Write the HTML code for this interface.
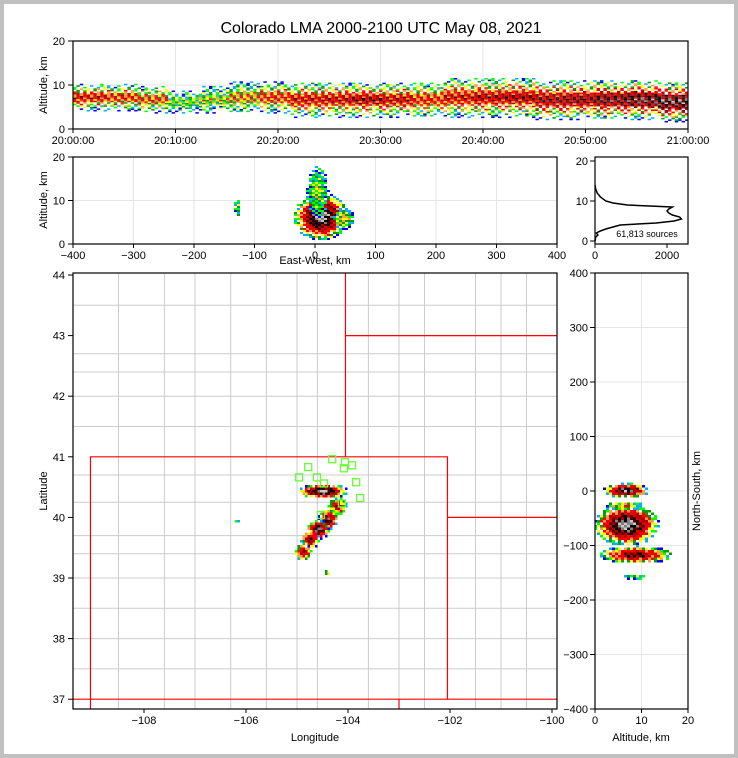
<!DOCTYPE html>
<html><head><meta charset="utf-8">
<style>
html,body{margin:0;padding:0;background:#fff}
svg{display:block;font-family:"Liberation Sans",sans-serif}
</style></head>
<body>
<svg id="c" width="738" height="758" viewBox="0 0 738 758">
<rect x="0" y="0" width="738" height="758" fill="#c0c0c0"/>
<rect x="4" y="4" width="730" height="750" fill="#fff"/>
<text x="381" y="33" font-size="16" text-anchor="middle">Colorado LMA 2000-2100 UTC May 08, 2021</text>
<g id="layer"></g>
</svg>
<script>
// ---- data ----
const timeBins = [0,3,6,9,12,15,18,21,24,27,30,33,36,39,42,45,48,51,54,57];
const thCenter = [7,7,6.5,6,6.5,7,7,6.5,6.5,6.5,6.5,6.5,7,7,7,6.5,6.5,6.5,6.5,6];
const thHalf   = [3,3,3,2.5,3,3.5,3.5,4,4,4,4,4,4.5,4.5,4.5,4.5,4.5,4.5,4.5,4.5];
const thPeak   = [0.6,0.55,0.5,0.3,0.35,0.45,0.55,0.6,0.62,0.66,0.62,0.55,0.6,0.64,0.66,0.68,0.7,0.75,0.8,0.85];
const ewX  = [8,  -130, 2, 45];
const ewZ  = [6.5, 8.5, 12, 6];
const ewRX = [45,  5,   18, 18];
const ewRZ = [5.5, 2.5, 6,  2.5];
const ewI  = [1.0, 0.3, 0.35, 0.45];
const histAlt = [0,1,1.5,2,2.5,3,3.5,4,4.5,5,5.5,6,6.5,7,7.5,8,8.5,9,9.5,10,11,12,13,14];
const histCnt = [0,20,80,40,150,300,500,700,1700,2200,2400,2350,2150,2050,2000,2050,2150,900,500,300,150,60,20,0];
const mapLon = [-104.51,-104.23,-104.41,-104.61,-104.76,-104.90,-104.43,-106.21];
const mapLat = [40.45,40.20,39.99,39.82,39.66,39.45,39.10,39.95];
const mapRLon= [0.5,0.18,0.2,0.22,0.19,0.17,0.07,0.05];
const mapRLat= [0.12,0.15,0.17,0.16,0.15,0.14,0.05,0.03];
const mapI   = [1.0,0.7,0.85,0.95,0.8,0.75,0.3,0.2];
const nsZ  = [6.5, 6.5, 8.5, 6, 8];
const nsY  = [3, -60, -115, -25, -155];
const nsRZ = [5, 7, 8, 4, 3];
const nsRY = [13, 38, 16, 8, 5];
const nsI  = [0.95, 1.0, 0.8, 0.5, 0.3];
const staLon = [-104.96,-104.78,-104.61,-104.31,-104.06,-103.92,-104.08,-104.47,-103.84,-103.76,-104.12,-104.53];
const staLat = [40.66,40.83,40.66,40.96,40.91,40.86,40.81,40.56,40.58,40.32,40.23,40.04];
const lonTicks = [-108,-106,-104,-102,-100];
const latTicks = [37,38,39,40,41,42,43,44];
const timeLabels = ["20:00:00","20:10:00","20:20:00","20:30:00","20:40:00","20:50:00","21:00:00"];

// ---- helpers ----
const NS='http://www.w3.org/2000/svg';
const L=document.getElementById('layer');
function mk(t,a,p){const e=document.createElementNS(NS,t);for(const k in a)e.setAttribute(k,a[k]);(p||L).appendChild(e);return e;}
const pal=['#0000ff','#00b0ff','#00ff00','#00a000','#ffff00','#ffa040','#ff0000','#e00000','#b00000','#500000','#000000','#808080','#c8c8c8'];
function col(v){v=Math.max(0,Math.min(0.999,v));return pal[Math.floor(v*pal.length)];}
function minus(s){return String(s).replace('-','\u2212');}

const tx=m=>73+m*(615/60), ty=z=>129-z*4.4;
const ex=k=>315+k*0.605, ez=z=>244-z*4.35;
const hx=c=>595+c*0.036, hy=z=>241-z*4;
const mx=lon=>144+(lon+108)*51, my=lat=>275+(44-lat)*60.6;
const rx=z=>595+z*4.65, ry=n=>491-n*0.545;

function frame(x,y,w,h,name){const r=mk('rect',{x:x,y:y,width:w,height:h,fill:'none',stroke:'#000','stroke-width':1.2});}
function grid(x1,y1,x2,y2){const l=mk('line',{x1:x1,y1:y1,x2:x2,y2:y2,stroke:'#e6e6e6','stroke-width':1});}
function txt(x,y,s,opt){const t=mk('text',Object.assign({x:x,y:y,'font-size':11,'text-anchor':'middle'},opt||{}));t.textContent=s;return t;}
function tick(x1,y1,x2,y2){const l=mk('line',{x1:x1,y1:y1,x2:x2,y2:y2,stroke:'#000','stroke-width':1});}

function cluster(g,cx,cy,rxp,ryp,I,cw,ch){
  const x0=Math.floor((cx-rxp)/cw),x1=Math.ceil((cx+rxp)/cw),y0=Math.floor((cy-ryp)/ch),y1=Math.ceil((cy+ryp)/ch);
  for(let i=x0;i<=x1;i++)for(let j=y0;j<=y1;j++){
    const px=i*cw,py=j*ch,dx=(px-cx)/rxp,dy=(py-cy)/ryp,d=Math.sqrt(dx*dx+dy*dy);
    if(d>=1)continue;
    if(d>0.75&&((i*3+j*5)%7)<2)continue;
    const v=I*Math.pow(1-d,0.6)+(((i*7+j*13)%5)-2)*0.05;
    if(v<0)continue;
    const r=mk('rect',{x:px,y:py,width:cw,height:ch,fill:col(v)},g);
    
    
  }
}

// ---- time-height panel ----
{
 for(let k=1;k<6;k++)grid(tx(k*10),41,tx(k*10),129);
 grid(73,ty(10),688,ty(10));
 const cp=mk('clipPath',{id:'c1'});mk('rect',{x:73,y:41,width:615,height:88},cp);
 const g=mk('g',{'clip-path':'url(#c1)'});
 
 const cw=3.4;
 for(let i=0;i*cw<615;i++){
   const x=73+i*cw, m=(x-73)/(615/60);
   let b=0;for(let k=0;k<timeBins.length;k++)if(timeBins[k]<=m)b=k;
   for(let z=thCenter[b]-thHalf[b];z<thCenter[b]+thHalf[b];z+=0.35){
     const d=Math.abs(z-thCenter[b])/thHalf[b];
     const j=Math.round(z/0.35);
     if(d>0.35&&((i*3+j*5)%7)<3)continue;
     if(d>0.7&&((i+j*2)%3)===0)continue;
     const v=thPeak[b]*Math.pow(1-d,0.7)+(((i*7+j*11)%5)-2)*0.07;
     if(v<0)continue;
     const r=mk('rect',{x:x,y:ty(z)-1.5,width:cw,height:1.55,fill:col(v)},g);
     
     
   }
 }
 frame(73,41,615,88,'time-height-axes');
 for(const z of [0,10,20]){tick(68,ty(z),73,ty(z));txt(65,ty(z)+4,z,{'text-anchor':'end'});}
 timeLabels.forEach((s,k)=>{tick(tx(k*10),129,tx(k*10),133);const t=txt(tx(k*10),144,s);});
 const a=txt(47,85,'Altitude, km',{transform:'rotate(-90 47 85)'});
}
// ---- east-west vs altitude ----
{
 for(let k=-300;k<=300;k+=100)grid(ex(k),157,ex(k),244);
 grid(73,ez(10),557,ez(10));
 const g=mk('g',{});
 for(let c=0;c<ewX.length;c++)cluster(g,ex(ewX[c]),ez(ewZ[c]),ewRX[c]*0.605,ewRZ[c]*4.35,ewI[c],3,2);
 frame(73,157,484,87,'ew-alt-axes');
 for(const z of [0,10,20]){tick(68,ez(z),73,ez(z));txt(65,ez(z)+4,z,{'text-anchor':'end'});}
 for(let k=-400;k<=400;k+=100){tick(ex(k),244,ex(k),248);const t=txt(ex(k),259,minus(k));}
 const a=txt(47,200,'Altitude, km',{transform:'rotate(-90 47 200)'});
 const b=txt(315,264,'East-West, km');
}
// ---- histogram ----
{
 let d='';histAlt.forEach((z,i)=>{d+=(i?'L':'M')+hx(histCnt[i]).toFixed(1)+' '+hy(z).toFixed(1);});
 const p=mk('path',{d:d,fill:'none',stroke:'#000','stroke-width':1.5});
 
 frame(595,157,93,87,'histogram-axes');
 for(const z of [0,10,20]){tick(590,hy(z),595,hy(z));txt(588,hy(z)+4,z,{'text-anchor':'end'});}
 for(const c of [0,2000]){tick(hx(c),244,hx(c),248);txt(hx(c),259,c);}
 const t=txt(647,237,'61,813 sources',{'font-size':9});
}
// ---- map ----
{
 const cp=mk('clipPath',{id:'c2'});mk('rect',{x:73,y:273,width:484,height:436},cp);
 const g=mk('g',{'clip-path':'url(#c2)'});
 const cLats=[37.5,38.0,38.5,39.0,39.4,39.7,40.25,40.7,41.5,42.0,42.4,42.7,43.5];
 const cLons=[-108.5,-107.6,-107,-106.3,-105.6,-105.0,-104.6,-103.6,-103.0,-102.5,-101.5,-101.0,-100.5];
 cLats.forEach(la=>{const l=mk('line',{x1:73,y1:my(la),x2:557,y2:my(la),stroke:'#cccccc','stroke-width':1},g);});
 cLons.forEach(lo=>{const l=mk('line',{x1:mx(lo),y1:273,x2:mx(lo),y2:709,stroke:'#cccccc','stroke-width':1},g);});
 const st=[[[-109.05,36.8],[-109.05,41],[-102.05,41],[-102.05,36.99]],[[-104.05,41],[-104.05,44.2]],[[-104.05,43],[-99,43]],[[-102.05,40],[-99,40]],[[-109.5,37],[-99,37]],[[-103,37],[-103,36.8]]];
 st.forEach(s=>{const p=mk('polyline',{points:s.map(q=>mx(q[0])+','+my(q[1])).join(' '),fill:'none',stroke:'#ff0000','stroke-width':1.2},g);});
 for(let c=0;c<mapLon.length;c++)cluster(g,mx(mapLon[c]),my(mapLat[c]),mapRLon[c]*51,mapRLat[c]*60.6,mapI[c],2.5,2.5);
 staLon.forEach((lo,i)=>{const r=mk('rect',{x:mx(lo)-3.5,y:my(staLat[i])-3.5,width:7,height:7,fill:'none',stroke:'#66ff33','stroke-width':1.3},g);});
 frame(73,273,484,436,'map-axes');
 latTicks.forEach(la=>{tick(68,my(la),73,my(la));txt(65,my(la)+4,la,{'text-anchor':'end'});});
 lonTicks.forEach(lo=>{tick(mx(lo),709,mx(lo),713);txt(mx(lo),724,minus(lo));});
 const a=txt(47,491,'Latitude',{transform:'rotate(-90 47 491)'});
 const b=txt(315,741,'Longitude');
}
// ---- altitude vs north-south ----
{
 grid(rx(10),273,rx(10),709);
 for(let n=-300;n<=300;n+=100)grid(595,ry(n),688,ry(n));
 const cp=mk('clipPath',{id:'c3'});mk('rect',{x:595,y:273,width:93,height:436},cp);
 const g=mk('g',{'clip-path':'url(#c3)'});
 for(let c=0;c<nsZ.length;c++)cluster(g,rx(nsZ[c]),ry(nsY[c]),nsRZ[c]*4.65,nsRY[c]*0.545,nsI[c],3,2.5);
 frame(595,273,93,436,'ns-alt-axes');
 for(let n=-400;n<=400;n+=100){tick(590,ry(n),595,ry(n));txt(588,ry(n)+4,minus(n),{'text-anchor':'end'});}
 for(const z of [0,10,20]){tick(rx(z),709,rx(z),713);txt(rx(z),724,z);}
 const a=txt(700,491,'North-South, km',{transform:'rotate(-90 700 491)'});
 const b=txt(641,741,'Altitude, km');
}
</script>
</body></html>
